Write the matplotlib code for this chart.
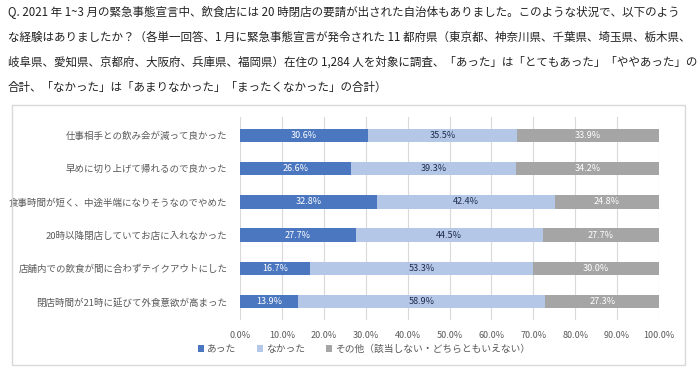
import matplotlib.pyplot as plt
from matplotlib.patches import Rectangle
import numpy as np

plt.rcParams['font.family'] = ['Noto Sans CJK JP', 'DejaVu Sans']

# data
categories = ['仕事相手との飲み会が減って良かった',
              '早めに切り上げて帰れるので良かった',
              '食事時間が短く、中途半端になりそうなのでやめた',
              '20時以降閉店していてお店に入れなかった',
              '店舗内での飲食が間に合わずテイクアウトにした',
              '閉店時間が21時に延びて外食意欲が高まった']
atta = [30.6, 26.6, 32.8, 27.7, 16.7, 13.9]
nakatta = [35.5, 39.3, 42.4, 44.5, 53.3, 58.9]
sonota = [33.9, 34.2, 24.8, 27.7, 30.0, 27.3]
series_names = ['あった', 'なかった', 'その他（該当しない・どちらともいえない）']
colors = ['#4A77C0', '#B4C7E7', '#A5A5A5']
text_colors = ['white', '#1F2D4A', 'white']

title_lines = [
    'Q. 2021 年 1~3 月の緊急事態宣言中、飲食店には 20 時閉店の要請が出された自治体もありました。このような状況で、以下のよう',
    'な経験はありましたか？（各単一回答、1 月に緊急事態宣言が発令された 11 都府県（東京都、神奈川県、千葉県、埼玉県、栃木県、',
    '岐阜県、愛知県、京都府、大阪府、兵庫県、福岡県）在住の 1,284 人を対象に調査、「あった」は「とてもあった」「ややあった」の',
    '合計、「なかった」は「あまりなかった」「まったくなかった」の合計）',
]

fig = plt.figure(figsize=(7, 3.7), dpi=100)

# question text
for i, line in enumerate(title_lines):
    fig.text(8 / 700, 1 - (12 + i * 25) / 370, line, fontsize=8.3, color='#222222',
             va='center', ha='left')

# chart frame
fig.patches.append(Rectangle((12 / 700, 1 - 365 / 370), 673 / 700, 260 / 370,
                             transform=fig.transFigure, fill=False,
                             edgecolor='#D9D9D9', linewidth=1))

ax = fig.add_axes([240 / 700, 1 - 320 / 370, 419 / 700, 203 / 370])
y = np.arange(len(categories))
left = np.zeros(len(categories))
for vals, name, c, tc in zip([atta, nakatta, sonota], series_names, colors, text_colors):
    ax.barh(y, vals, left=left, height=0.4, color=c, label=name, zorder=3)
    for yi, l, v in zip(y, left, vals):
        ax.text(l + v / 2, yi, f'{v:.1f}%', ha='center', va='center',
                fontsize=6.5, color=tc, zorder=4)
    left = left + np.array(vals)

ax.set_xlim(0, 100)
ax.set_ylim(len(categories) - 0.45, -0.55)
ax.set_yticks(y)
ax.set_yticklabels(categories, fontsize=6.8, color='#595959')
ax.set_xticks(np.arange(0, 101, 10))
ax.set_xticklabels([f'{v:.1f}%' for v in np.arange(0, 101, 10)], fontsize=6.5, color='#595959')
ax.tick_params(length=0, pad=8)
ax.tick_params(axis='y', pad=9)
ax.grid(axis='x', color='#D9D9D9', linewidth=0.8, zorder=0)
for s in ax.spines.values():
    s.set_visible(False)

handles, labels = ax.get_legend_handles_labels()
fig.legend(handles, labels, loc='center', bbox_to_anchor=(0.52, 1 - 349 / 370), ncol=3,
           frameon=False, fontsize=7, labelcolor='#595959', handlelength=0.6,
           handleheight=0.6, handletextpad=0.3, columnspacing=2.2)

fig.savefig('out.png', dpi=100)
